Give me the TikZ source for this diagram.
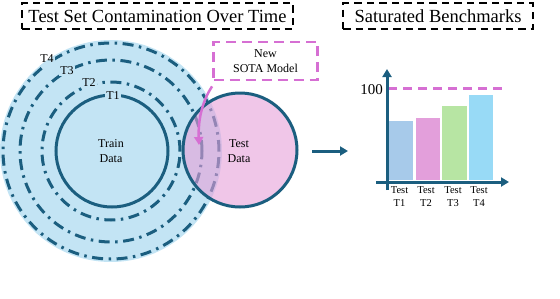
\documentclass[tikz,border=0pt]{standalone}
\usepackage{fontspec}
\setmainfont{Liberation Serif}
\usetikzlibrary{arrows.meta,calc}
\definecolor{bluefill}{HTML}{C3E4F4}
\definecolor{darkline}{HTML}{1B5E7F}
\definecolor{pinkbase}{HTML}{E6A0D9}
\definecolor{magentaline}{HTML}{D66FD3}
\definecolor{barA}{HTML}{A7CAEA}
\definecolor{barB}{HTML}{E39FDB}
\definecolor{barC}{HTML}{B7E5A3}
\definecolor{barD}{HTML}{98DAF6}
\tikzset{
  titlebox/.style={draw=black, dash pattern=on 7.5pt off 5pt, line width=1.7pt, minimum height=26pt, inner xsep=4pt, font=\fontsize{18.5}{20}\selectfont},
  ring/.style={circle, draw=darkline, line width=3pt, inner sep=0pt},
  dashring/.style={ring, dash pattern=on 11pt off 5.5pt on 2.5pt off 5.5pt},
  tlabel/.style={fill=bluefill, inner sep=1pt, font=\fontsize{12}{14}\selectfont},
  datatext/.style={align=center, font=\fontsize{12}{15.5}\selectfont},
  bar/.style={draw=white, line width=0.6pt},
  barlabel/.style={align=center, font=\fontsize{10.5}{13.5}\selectfont, anchor=north},
  axis/.style={draw=darkline, line width=3pt, -{Triangle[length=8pt,width=9pt]}},
}
\begin{document}
\begin{tikzpicture}[x=1pt,y=-1pt]
\useasboundingbox (0,0) rectangle (560,298);
% titles
\node[titlebox, minimum width=271pt] (title1) at (157.5,16) {Test Set Contamination Over Time};
\node[titlebox, minimum width=190pt] (title2) at (438,16) {Saturated Benchmarks};
% contamination circles
\node[circle, fill=bluefill, minimum size=222pt, inner sep=0pt] (t4fill) at (111,151) {};
\node[dashring, minimum size=216pt] (t4) at (111,151) {};
\node[dashring, minimum size=182pt] (t3) at (111,151) {};
\node[dashring, minimum size=138pt] (t2) at (111,151) {};
\node[ring, minimum size=112pt] (t1) at (112,151) {};
\node[tlabel] (l1) at (113,96) {T1};
\node[tlabel] (l2) at (89,83) {T2};
\node[tlabel] (l3) at (67,71) {T3};
\coordinate (l4pos) at (47,59);
\begin{scope}
  \clip (t4fill.center) circle[radius=111pt];
  \fill[bluefill] ($(l4pos)+(-8,-7)$) rectangle ($(l4pos)+(8,7)$);
\end{scope}
\node[tlabel, fill=none] (l4) at (l4pos) {T4};
% test data
\node[circle, fill=pinkbase, fill opacity=0.6, minimum size=114pt, inner sep=0pt] (testfill) at (240,150) {};
\node[ring, minimum size=114pt] (test) at (240,150) {};
\node[datatext] (traintxt) at (111,151) {Train\\Data};
\node[datatext] (testtxt) at (239,151) {Test\\Data};
% SOTA model box
\node[draw=magentaline, dash pattern=on 10pt off 6pt, line width=2.8pt, minimum width=104pt, minimum height=38pt, align=center, font=\fontsize{12}{15}\selectfont] (sota) at (265.5,61) {New\\SOTA Model};
\coordinate (sotaout) at ($(sota.south west)+(0,5)$);
\coordinate (hit) at (199,145);
\draw[magentaline, line width=2.5pt, -{Triangle[length=8pt,width=9pt]}] (sotaout) .. controls (203,100) and (198,118) .. (hit);
% big arrow
\coordinate (arrA) at (312,151);
\coordinate (arrB) at (348,151);
\draw[axis] (arrA) -- (arrB);
% chart
\node[bar, fill=barA, minimum width=25pt, minimum height=60pt, anchor=south west, inner sep=0pt] (b1) at (388,181) {};
\node[bar, fill=barB, minimum width=25pt, minimum height=63pt, anchor=south west, inner sep=0pt] (b2) at (414.5,181) {};
\node[bar, fill=barC, minimum width=25.5pt, minimum height=75pt, anchor=south west, inner sep=0pt] (b3) at (441,181) {};
\node[bar, fill=barD, minimum width=25.5pt, minimum height=86pt, anchor=south west, inner sep=0pt] (b4) at (467.5,181) {};
\coordinate (hundredL) at (388,88);
\coordinate (hundredR) at (506,88);
\draw[magentaline, line width=3pt, dash pattern=on 9pt off 6pt] (hundredL) -- (hundredR);
\node[anchor=east, inner sep=1pt, font=\fontsize{15}{16}\selectfont] (hundred) at (384,90) {100};
\coordinate (yaxB) at (387,190);
\coordinate (yaxT) at (387,69);
\coordinate (xaxL) at (376,182);
\coordinate (xaxR) at (509,182);
\draw[axis] (yaxB) -- (yaxT);
\draw[axis] (xaxL) -- (xaxR);
\node[barlabel] (x1) at (399.5,183) {Test\\T1};
\node[barlabel] (x2) at (426,183) {Test\\T2};
\node[barlabel] (x3) at (453,183) {Test\\T3};
\node[barlabel] (x4) at (479,183) {Test\\T4};
\end{tikzpicture}
\end{document}
